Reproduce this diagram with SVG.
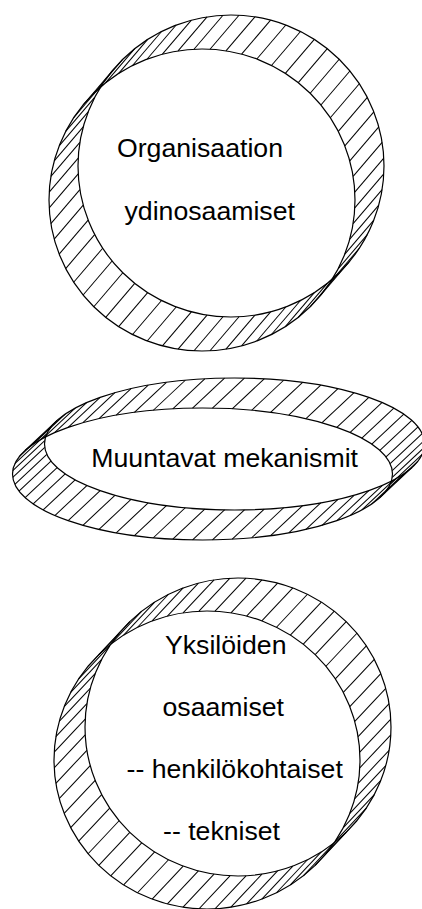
<svg xmlns="http://www.w3.org/2000/svg" xmlns:xlink="http://www.w3.org/1999/xlink" width="422" height="909" viewBox="0 0 422 909">
<style>
.h{stroke:#000;stroke-width:1;fill:none}
.e{stroke:#000;stroke-width:1.2;fill:none}
.t{font-family:"Liberation Sans",Arial,sans-serif;font-size:26.67px;fill:#000}
</style>
<defs>
<g id="hT" transform="scale(0.00653595,0.00662252)"><line class="h" x1="0" y1="0" x2="29" y2="-34"/></g>
<g id="hM" transform="scale(0.00526316,0.01515152)"><line class="h" x1="0" y1="0" x2="32" y2="-30"/></g>
<g id="hB" transform="scale(0.00653595,0.00671141)"><line class="h" x1="0" y1="0" x2="31" y2="-33"/></g>
</defs>
<rect width="422" height="909" fill="#fff"/>
<g id="node-top">
<g transform="translate(202,200) scale(153,151)">
<use href="#hT" transform="rotate(3) translate(1,0) rotate(-3)"/>
<use href="#hT" transform="rotate(9) translate(1,0) rotate(-9)"/>
<use href="#hT" transform="rotate(15) translate(1,0) rotate(-15)"/>
<use href="#hT" transform="rotate(21) translate(1,0) rotate(-21)"/>
<use href="#hT" transform="rotate(27) translate(1,0) rotate(-27)"/>
<use href="#hT" transform="rotate(33) translate(1,0) rotate(-33)"/>
<use href="#hT" transform="rotate(39) translate(1,0) rotate(-39)"/>
<use href="#hT" transform="rotate(45) translate(1,0) rotate(-45)"/>
<use href="#hT" transform="rotate(51) translate(1,0) rotate(-51)"/>
<use href="#hT" transform="rotate(57) translate(1,0) rotate(-57)"/>
<use href="#hT" transform="rotate(63) translate(1,0) rotate(-63)"/>
<use href="#hT" transform="rotate(69) translate(1,0) rotate(-69)"/>
<use href="#hT" transform="rotate(75) translate(1,0) rotate(-75)"/>
<use href="#hT" transform="rotate(81) translate(1,0) rotate(-81)"/>
<use href="#hT" transform="rotate(87) translate(1,0) rotate(-87)"/>
<use href="#hT" transform="rotate(93) translate(1,0) rotate(-93)"/>
<use href="#hT" transform="rotate(99) translate(1,0) rotate(-99)"/>
<use href="#hT" transform="rotate(105) translate(1,0) rotate(-105)"/>
<use href="#hT" transform="rotate(111) translate(1,0) rotate(-111)"/>
<use href="#hT" transform="rotate(117) translate(1,0) rotate(-117)"/>
<use href="#hT" transform="rotate(123) translate(1,0) rotate(-123)"/>
<use href="#hT" transform="rotate(129) translate(1,0) rotate(-129)"/>
<use href="#hT" transform="rotate(135) translate(1,0) rotate(-135)"/>
<use href="#hT" transform="rotate(141) translate(1,0) rotate(-141)"/>
<use href="#hT" transform="rotate(147) translate(1,0) rotate(-147)"/>
<use href="#hT" transform="rotate(153) translate(1,0) rotate(-153)"/>
<use href="#hT" transform="rotate(159) translate(1,0) rotate(-159)"/>
<use href="#hT" transform="rotate(165) translate(1,0) rotate(-165)"/>
<use href="#hT" transform="rotate(171) translate(1,0) rotate(-171)"/>
<use href="#hT" transform="rotate(177) translate(1,0) rotate(-177)"/>
<use href="#hT" transform="rotate(183) translate(1,0) rotate(-183)"/>
<use href="#hT" transform="rotate(189) translate(1,0) rotate(-189)"/>
<use href="#hT" transform="rotate(195) translate(1,0) rotate(-195)"/>
<use href="#hT" transform="rotate(201) translate(1,0) rotate(-201)"/>
<use href="#hT" transform="rotate(207) translate(1,0) rotate(-207)"/>
<use href="#hT" transform="rotate(213) translate(1,0) rotate(-213)"/>
<use href="#hT" transform="rotate(219) translate(1,0) rotate(-219)"/>
<use href="#hT" transform="rotate(225) translate(1,0) rotate(-225)"/>
<use href="#hT" transform="rotate(231) translate(1,0) rotate(-231)"/>
<use href="#hT" transform="rotate(237) translate(1,0) rotate(-237)"/>
<use href="#hT" transform="rotate(243) translate(1,0) rotate(-243)"/>
<use href="#hT" transform="rotate(249) translate(1,0) rotate(-249)"/>
<use href="#hT" transform="rotate(255) translate(1,0) rotate(-255)"/>
<use href="#hT" transform="rotate(261) translate(1,0) rotate(-261)"/>
<use href="#hT" transform="rotate(267) translate(1,0) rotate(-267)"/>
<use href="#hT" transform="rotate(273) translate(1,0) rotate(-273)"/>
<use href="#hT" transform="rotate(279) translate(1,0) rotate(-279)"/>
<use href="#hT" transform="rotate(285) translate(1,0) rotate(-285)"/>
<use href="#hT" transform="rotate(291) translate(1,0) rotate(-291)"/>
<use href="#hT" transform="rotate(297) translate(1,0) rotate(-297)"/>
<use href="#hT" transform="rotate(303) translate(1,0) rotate(-303)"/>
<use href="#hT" transform="rotate(309) translate(1,0) rotate(-309)"/>
<use href="#hT" transform="rotate(315) translate(1,0) rotate(-315)"/>
<use href="#hT" transform="rotate(321) translate(1,0) rotate(-321)"/>
<use href="#hT" transform="rotate(327) translate(1,0) rotate(-327)"/>
<use href="#hT" transform="rotate(333) translate(1,0) rotate(-333)"/>
<use href="#hT" transform="rotate(339) translate(1,0) rotate(-339)"/>
<use href="#hT" transform="rotate(345) translate(1,0) rotate(-345)"/>
<use href="#hT" transform="rotate(351) translate(1,0) rotate(-351)"/>
<use href="#hT" transform="rotate(357) translate(1,0) rotate(-357)"/>
</g>
<ellipse class="e" cx="202" cy="200" rx="153" ry="151"/>
<ellipse class="e" cx="231" cy="166" rx="153" ry="151"/>
<text class="t" x="117" y="157.3">Organisaation</text>
<text class="t" x="124.5" y="220">ydinosaamiset</text>
</g>
<g id="node-middle">
<g transform="translate(202.5,474) scale(190,66)">
<use href="#hM" transform="rotate(3) translate(1,0) rotate(-3)"/>
<use href="#hM" transform="rotate(9) translate(1,0) rotate(-9)"/>
<use href="#hM" transform="rotate(15) translate(1,0) rotate(-15)"/>
<use href="#hM" transform="rotate(21) translate(1,0) rotate(-21)"/>
<use href="#hM" transform="rotate(27) translate(1,0) rotate(-27)"/>
<use href="#hM" transform="rotate(33) translate(1,0) rotate(-33)"/>
<use href="#hM" transform="rotate(39) translate(1,0) rotate(-39)"/>
<use href="#hM" transform="rotate(45) translate(1,0) rotate(-45)"/>
<use href="#hM" transform="rotate(51) translate(1,0) rotate(-51)"/>
<use href="#hM" transform="rotate(57) translate(1,0) rotate(-57)"/>
<use href="#hM" transform="rotate(63) translate(1,0) rotate(-63)"/>
<use href="#hM" transform="rotate(69) translate(1,0) rotate(-69)"/>
<use href="#hM" transform="rotate(75) translate(1,0) rotate(-75)"/>
<use href="#hM" transform="rotate(81) translate(1,0) rotate(-81)"/>
<use href="#hM" transform="rotate(87) translate(1,0) rotate(-87)"/>
<use href="#hM" transform="rotate(93) translate(1,0) rotate(-93)"/>
<use href="#hM" transform="rotate(99) translate(1,0) rotate(-99)"/>
<use href="#hM" transform="rotate(105) translate(1,0) rotate(-105)"/>
<use href="#hM" transform="rotate(111) translate(1,0) rotate(-111)"/>
<use href="#hM" transform="rotate(117) translate(1,0) rotate(-117)"/>
<use href="#hM" transform="rotate(123) translate(1,0) rotate(-123)"/>
<use href="#hM" transform="rotate(129) translate(1,0) rotate(-129)"/>
<use href="#hM" transform="rotate(135) translate(1,0) rotate(-135)"/>
<use href="#hM" transform="rotate(141) translate(1,0) rotate(-141)"/>
<use href="#hM" transform="rotate(147) translate(1,0) rotate(-147)"/>
<use href="#hM" transform="rotate(153) translate(1,0) rotate(-153)"/>
<use href="#hM" transform="rotate(159) translate(1,0) rotate(-159)"/>
<use href="#hM" transform="rotate(165) translate(1,0) rotate(-165)"/>
<use href="#hM" transform="rotate(171) translate(1,0) rotate(-171)"/>
<use href="#hM" transform="rotate(177) translate(1,0) rotate(-177)"/>
<use href="#hM" transform="rotate(183) translate(1,0) rotate(-183)"/>
<use href="#hM" transform="rotate(189) translate(1,0) rotate(-189)"/>
<use href="#hM" transform="rotate(195) translate(1,0) rotate(-195)"/>
<use href="#hM" transform="rotate(201) translate(1,0) rotate(-201)"/>
<use href="#hM" transform="rotate(207) translate(1,0) rotate(-207)"/>
<use href="#hM" transform="rotate(213) translate(1,0) rotate(-213)"/>
<use href="#hM" transform="rotate(219) translate(1,0) rotate(-219)"/>
<use href="#hM" transform="rotate(225) translate(1,0) rotate(-225)"/>
<use href="#hM" transform="rotate(231) translate(1,0) rotate(-231)"/>
<use href="#hM" transform="rotate(237) translate(1,0) rotate(-237)"/>
<use href="#hM" transform="rotate(243) translate(1,0) rotate(-243)"/>
<use href="#hM" transform="rotate(249) translate(1,0) rotate(-249)"/>
<use href="#hM" transform="rotate(255) translate(1,0) rotate(-255)"/>
<use href="#hM" transform="rotate(261) translate(1,0) rotate(-261)"/>
<use href="#hM" transform="rotate(267) translate(1,0) rotate(-267)"/>
<use href="#hM" transform="rotate(273) translate(1,0) rotate(-273)"/>
<use href="#hM" transform="rotate(279) translate(1,0) rotate(-279)"/>
<use href="#hM" transform="rotate(285) translate(1,0) rotate(-285)"/>
<use href="#hM" transform="rotate(291) translate(1,0) rotate(-291)"/>
<use href="#hM" transform="rotate(297) translate(1,0) rotate(-297)"/>
<use href="#hM" transform="rotate(303) translate(1,0) rotate(-303)"/>
<use href="#hM" transform="rotate(309) translate(1,0) rotate(-309)"/>
<use href="#hM" transform="rotate(315) translate(1,0) rotate(-315)"/>
<use href="#hM" transform="rotate(321) translate(1,0) rotate(-321)"/>
<use href="#hM" transform="rotate(327) translate(1,0) rotate(-327)"/>
<use href="#hM" transform="rotate(333) translate(1,0) rotate(-333)"/>
<use href="#hM" transform="rotate(339) translate(1,0) rotate(-339)"/>
<use href="#hM" transform="rotate(345) translate(1,0) rotate(-345)"/>
<use href="#hM" transform="rotate(351) translate(1,0) rotate(-351)"/>
<use href="#hM" transform="rotate(357) translate(1,0) rotate(-357)"/>
</g>
<ellipse class="e" cx="202.5" cy="474" rx="190" ry="66"/>
<ellipse class="e" cx="234.5" cy="444" rx="190" ry="66"/>
<text class="t" x="91.3" y="466.7">Muuntavat mekanismit</text>
</g>
<g id="node-bottom">
<g transform="translate(207,760) scale(153,149)">
<use href="#hB" transform="rotate(3) translate(1,0) rotate(-3)"/>
<use href="#hB" transform="rotate(9) translate(1,0) rotate(-9)"/>
<use href="#hB" transform="rotate(15) translate(1,0) rotate(-15)"/>
<use href="#hB" transform="rotate(21) translate(1,0) rotate(-21)"/>
<use href="#hB" transform="rotate(27) translate(1,0) rotate(-27)"/>
<use href="#hB" transform="rotate(33) translate(1,0) rotate(-33)"/>
<use href="#hB" transform="rotate(39) translate(1,0) rotate(-39)"/>
<use href="#hB" transform="rotate(45) translate(1,0) rotate(-45)"/>
<use href="#hB" transform="rotate(51) translate(1,0) rotate(-51)"/>
<use href="#hB" transform="rotate(57) translate(1,0) rotate(-57)"/>
<use href="#hB" transform="rotate(63) translate(1,0) rotate(-63)"/>
<use href="#hB" transform="rotate(69) translate(1,0) rotate(-69)"/>
<use href="#hB" transform="rotate(75) translate(1,0) rotate(-75)"/>
<use href="#hB" transform="rotate(81) translate(1,0) rotate(-81)"/>
<use href="#hB" transform="rotate(87) translate(1,0) rotate(-87)"/>
<use href="#hB" transform="rotate(93) translate(1,0) rotate(-93)"/>
<use href="#hB" transform="rotate(99) translate(1,0) rotate(-99)"/>
<use href="#hB" transform="rotate(105) translate(1,0) rotate(-105)"/>
<use href="#hB" transform="rotate(111) translate(1,0) rotate(-111)"/>
<use href="#hB" transform="rotate(117) translate(1,0) rotate(-117)"/>
<use href="#hB" transform="rotate(123) translate(1,0) rotate(-123)"/>
<use href="#hB" transform="rotate(129) translate(1,0) rotate(-129)"/>
<use href="#hB" transform="rotate(135) translate(1,0) rotate(-135)"/>
<use href="#hB" transform="rotate(141) translate(1,0) rotate(-141)"/>
<use href="#hB" transform="rotate(147) translate(1,0) rotate(-147)"/>
<use href="#hB" transform="rotate(153) translate(1,0) rotate(-153)"/>
<use href="#hB" transform="rotate(159) translate(1,0) rotate(-159)"/>
<use href="#hB" transform="rotate(165) translate(1,0) rotate(-165)"/>
<use href="#hB" transform="rotate(171) translate(1,0) rotate(-171)"/>
<use href="#hB" transform="rotate(177) translate(1,0) rotate(-177)"/>
<use href="#hB" transform="rotate(183) translate(1,0) rotate(-183)"/>
<use href="#hB" transform="rotate(189) translate(1,0) rotate(-189)"/>
<use href="#hB" transform="rotate(195) translate(1,0) rotate(-195)"/>
<use href="#hB" transform="rotate(201) translate(1,0) rotate(-201)"/>
<use href="#hB" transform="rotate(207) translate(1,0) rotate(-207)"/>
<use href="#hB" transform="rotate(213) translate(1,0) rotate(-213)"/>
<use href="#hB" transform="rotate(219) translate(1,0) rotate(-219)"/>
<use href="#hB" transform="rotate(225) translate(1,0) rotate(-225)"/>
<use href="#hB" transform="rotate(231) translate(1,0) rotate(-231)"/>
<use href="#hB" transform="rotate(237) translate(1,0) rotate(-237)"/>
<use href="#hB" transform="rotate(243) translate(1,0) rotate(-243)"/>
<use href="#hB" transform="rotate(249) translate(1,0) rotate(-249)"/>
<use href="#hB" transform="rotate(255) translate(1,0) rotate(-255)"/>
<use href="#hB" transform="rotate(261) translate(1,0) rotate(-261)"/>
<use href="#hB" transform="rotate(267) translate(1,0) rotate(-267)"/>
<use href="#hB" transform="rotate(273) translate(1,0) rotate(-273)"/>
<use href="#hB" transform="rotate(279) translate(1,0) rotate(-279)"/>
<use href="#hB" transform="rotate(285) translate(1,0) rotate(-285)"/>
<use href="#hB" transform="rotate(291) translate(1,0) rotate(-291)"/>
<use href="#hB" transform="rotate(297) translate(1,0) rotate(-297)"/>
<use href="#hB" transform="rotate(303) translate(1,0) rotate(-303)"/>
<use href="#hB" transform="rotate(309) translate(1,0) rotate(-309)"/>
<use href="#hB" transform="rotate(315) translate(1,0) rotate(-315)"/>
<use href="#hB" transform="rotate(321) translate(1,0) rotate(-321)"/>
<use href="#hB" transform="rotate(327) translate(1,0) rotate(-327)"/>
<use href="#hB" transform="rotate(333) translate(1,0) rotate(-333)"/>
<use href="#hB" transform="rotate(339) translate(1,0) rotate(-339)"/>
<use href="#hB" transform="rotate(345) translate(1,0) rotate(-345)"/>
<use href="#hB" transform="rotate(351) translate(1,0) rotate(-351)"/>
<use href="#hB" transform="rotate(357) translate(1,0) rotate(-357)"/>
</g>
<ellipse class="e" cx="207" cy="760" rx="153" ry="149"/>
<ellipse class="e" cx="238" cy="727" rx="153" ry="149"/>
<text class="t" x="165" y="654">Yksilöiden</text>
<text class="t" x="162.5" y="716">osaamiset</text>
<text class="t" x="126.5" y="778.3">-- henkilökohtaiset</text>
<text class="t" x="163" y="840">-- tekniset</text>
</g>
</svg>
